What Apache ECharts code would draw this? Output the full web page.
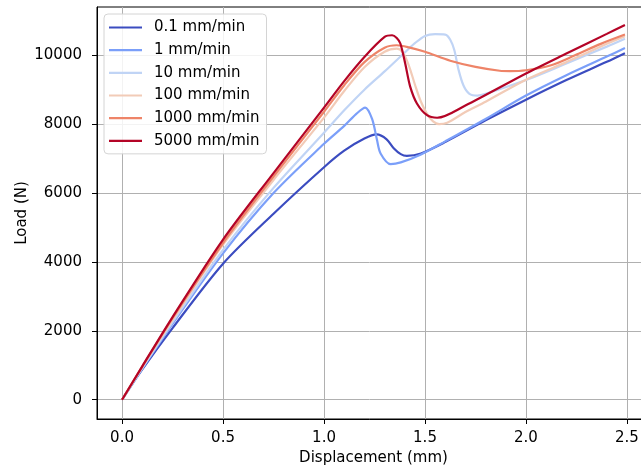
<!DOCTYPE html>
<html>
<head>
<meta charset="utf-8">
<script src="https://cdn.jsdelivr.net/npm/echarts@6/dist/echarts.min.js"></script>
<style>
  html, body { margin: 0; padding: 0; background: #fff; }
  #chart { width: 641px; height: 470px; }
</style>
</head>
<body>
<div id="chart"></div>
<script>
// Load–displacement curves at six loading rates
const rateLabels = ['0.1 mm/min', '1 mm/min', '10 mm/min', '100 mm/min', '1000 mm/min', '5000 mm/min'];
const rateColors = ['#3b4cc0', '#7b9ff9', '#c0d4f5', '#f2cbb7', '#ee8468', '#b40426'];

const xTicks = [0, 0.5, 1.0, 1.5, 2.0, 2.5];
const yTicks = [0, 2000, 4000, 6000, 8000, 10000];

const disp01 = [0, 0.1, 0.25, 0.5, 0.75, 1.0, 1.1, 1.2, 1.26, 1.31, 1.345, 1.38, 1.41, 1.48, 1.6, 1.8, 2.0, 2.2, 2.4, 2.49];
const load01 = [0, 880, 2080, 3950, 5400, 6750, 7230, 7580, 7700, 7560, 7300, 7130, 7080, 7150, 7480, 8110, 8710, 9280, 9810, 10060];

const disp1 = [0, 0.1, 0.25, 0.5, 0.75, 1.0, 1.1, 1.16, 1.204, 1.238, 1.262, 1.28, 1.33, 1.38, 1.48, 1.6, 1.8, 2.0, 2.2, 2.4, 2.49];
const load1 = [0, 900, 2200, 4250, 6000, 7430, 7950, 8300, 8480, 8150, 7550, 7150, 6840, 6890, 7120, 7500, 8150, 8830, 9420, 9960, 10210];

const disp10 = [0, 0.1, 0.25, 0.5, 0.75, 1.0, 1.1, 1.2, 1.3, 1.4, 1.45, 1.5, 1.55, 1.6, 1.625, 1.645, 1.666, 1.69, 1.72, 1.76, 1.8, 2.0, 2.2, 2.4, 2.49];
const load10 = [0, 920, 2250, 4350, 6150, 7750, 8400, 9000, 9530, 10080, 10350, 10560, 10610, 10600, 10450, 10150, 9580, 9130, 8880, 8830, 8880, 9280, 9760, 10250, 10480];

const disp100 = [0, 0.1, 0.25, 0.5, 0.75, 1.0, 1.1, 1.2, 1.3, 1.36, 1.39, 1.42, 1.45, 1.48, 1.51, 1.54, 1.57, 1.61, 1.7, 1.8, 2.0, 2.2, 2.4, 2.49];
const load100 = [0, 950, 2320, 4500, 6380, 8190, 8960, 9650, 10100, 10190, 10080, 9700, 9150, 8650, 8300, 8080, 8000, 8040, 8350, 8650, 9290, 9800, 10330, 10550];

const disp1000 = [0, 0.1, 0.25, 0.5, 0.75, 1.0, 1.1, 1.2, 1.3, 1.36, 1.42, 1.5, 1.625, 1.75, 1.87, 1.92, 2.0, 2.12, 2.24, 2.37, 2.49];
const load1000 = [0, 960, 2370, 4550, 6480, 8360, 9130, 9800, 10220, 10290, 10230, 10100, 9840, 9660, 9550, 9540, 9565, 9700, 9990, 10330, 10600];

const disp5000 = [0, 0.1, 0.25, 0.5, 0.75, 1.0, 1.1, 1.2, 1.3, 1.337, 1.36, 1.378, 1.402, 1.427, 1.46, 1.51, 1.56, 1.7, 2.0, 2.2, 2.4, 2.49];
const load5000 = [0, 970, 2400, 4650, 6580, 8480, 9250, 9950, 10530, 10580, 10500, 10340, 9760, 9080, 8600, 8260, 8185, 8540, 9470, 10050, 10620, 10880];

const curves = [
  [disp01, load01], [disp1, load1], [disp10, load10],
  [disp100, load100], [disp1000, load1000], [disp5000, load5000]
];

const FONT = 'DejaVu Sans';

const chart = echarts.init(document.getElementById('chart'), null, { renderer: 'canvas' });

const series = curves.map(([xs, ys], i) => ({
  name: rateLabels[i],
  type: 'line',
  data: xs.map((x, k) => [x, ys[k]]),
  symbol: 'none',
  smooth: 0.3,
  lineStyle: { color: rateColors[i], width: 2.2 },
  itemStyle: { color: rateColors[i] },
  emphasis: { disabled: true },
  animation: false,
  z: 3 + i
}));

chart.setOption({
  animation: false,
  grid: {
    left: 97, right: -9, top: 7, bottom: 51,
    containLabel: false,
    outerBoundsMode: 'none',
    show: true, borderColor: '#000', borderWidth: 1, backgroundColor: 'transparent'
  },
  legend: {
    left: 104, top: 14,
    orient: 'vertical',
    icon: 'rect',
    itemWidth: 33, itemHeight: 2.2, itemGap: 7.67,
    padding: [6, 7, 5.5, 5],
    backgroundColor: 'rgba(255,255,255,0.85)',
    borderColor: '#d4d4d4', borderWidth: 1, borderRadius: 4,
    textStyle: { fontFamily: FONT, fontSize: 15, color: '#000', padding: [0, 0, 0, 7] },
    data: rateLabels
  },
  xAxis: {
    type: 'value',
    min: -0.124, max: 2.614,
    name: 'Displacement (mm)',
    nameLocation: 'middle', nameGap: 32, nameMoveOverlap: false,
    nameTextStyle: { fontFamily: FONT, fontSize: 15, color: '#000' },
    axisLine: { show: true, onZero: false, lineStyle: { color: '#000', width: 1 } },
    axisTick: { show: true, inside: false, length: 5, customValues: xTicks, lineStyle: { color: '#000', width: 1 } },
    axisLabel: {
      customValues: xTicks, margin: 12,
      fontFamily: FONT, fontSize: 15, color: '#000',
      formatter: v => v.toFixed(1)
    },
    splitLine: { show: true, lineStyle: { color: '#b0b0b0', width: 1 } }
  },
  yAxis: {
    type: 'value',
    min: -559, max: 11400,
    name: 'Load (N)',
    nameLocation: 'middle', nameGap: 67, nameRotate: 90, nameMoveOverlap: false,
    nameTextStyle: { fontFamily: FONT, fontSize: 15, color: '#000' },
    axisLine: { show: true, onZero: false, lineStyle: { color: '#000', width: 1 } },
    axisTick: { show: true, inside: false, length: 5, customValues: yTicks, lineStyle: { color: '#000', width: 1 } },
    axisLabel: {
      customValues: yTicks, margin: 15,
      fontFamily: FONT, fontSize: 15, color: '#000',
      formatter: v => String(Math.round(v))
    },
    splitLine: { show: true, lineStyle: { color: '#b0b0b0', width: 1 } }
  },
  series: series
});
</script>
</body>
</html>
